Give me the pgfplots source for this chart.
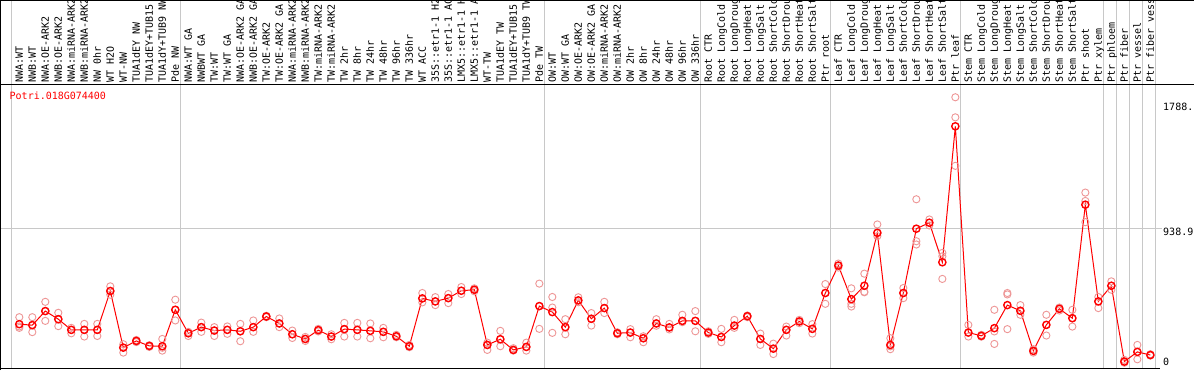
\documentclass[border=0pt]{standalone}
\usepackage{pgfplots}
\pgfplotsset{compat=1.18}
\usepackage{pgfplotstable}
\usepackage{fontspec}
\newfontfamily\mono{DejaVu Sans Mono}
\definecolor{rep}{RGB}{238,150,150}
\definecolor{sep}{RGB}{200,200,200}

\pgfplotstableread{
i m r1 r2 r3
1 266 315 240 250
2 259 315 210 262
3 358 423 289 358
4 301 346 252 301
5 226 202 226 240
6 226 268 179 226
7 226 268 183 226
8 499 532 473 499
9 101 125 66 101
10 148 148 155 140
11 113 118 106 113
12 111 162 80 100
13 367 438 292 367
14 202 212 183 202
15 245 277 212 245
16 221 245 183 221
17 226 250 198 226
18 216 268 146 216
19 245 292 212 245
20 320 325 315 320
21 271 306 245 271
22 195 221 169 195
23 162 176 148 162
24 224 233 215 224
25 179 195 160 179
26 231 275 179 231
27 226 275 179 226
28 219 271 167 219
29 212 240 174 212
30 181 191 174 181
31 111 120 104 111
32 447 485 419 447
33 426 456 400 426
34 449 478 414 449
35 501 527 478 501
36 508 518 497 508
37 120 136 85 120
38 160 219 111 160
39 85 97 80 85
40 106 136 80 106
41 393 551 233 393
42 351 457 205 383
43 245 301 195 245
44 433 455 420 433
45 304 344 256 304
46 379 423 344 379
47 202 209 195 202
48 207 231 174 207
49 167 181 139 167
50 271 301 255 271
51 243 268 229 243
52 289 332 280 289
53 289 358 216 289
54 207 216 198 207
55 176 233 139 176
56 256 296 240 256
57 322 327 315 322
58 162 200 120 162
59 94 129 56 94
60 226 249 186 226
61 285 296 273 285
62 233 266 200 233
63 485 548 409 485
64 678 692 664 678
65 442 518 409 390
66 536 621 494 490
67 908 967 885 908
68 120 167 90 110
69 485 520 449 485
70 937 1144 849 826
71 979 1002 960 979
72 701 767 584 743
73 1657 1861 1720 1379
74 207 261 179 207
75 184 191 178 184
76 238 367 127 215
77 400 485 231 475
78 360 400 332 360
79 78 90 66 78
80 261 332 186 261
81 374 383 362 374
82 308 367 249 308
83 1106 1191 1132 983
84 426 457 379 426
85 536 567 508 536
86 3 15 -5 3
87 71 120 19 71
88 49 55 45 49
}\data

\begin{document}
\begin{tikzpicture}[x=1pt,y=1pt]
\useasboundingbox (0,0) rectangle (1194,370);
\fill[white] (0,0) rectangle (1194,370);
\foreach \s in {0.4,13.4,41.4,53.4,63.4,73.4,84.4,85.4,86.4,87.4,88.4}
  \draw[sep, line width=1pt] ({6.3+13*\s},1.5) -- ({6.3+13*\s},370);
\draw[sep, line width=1pt] (1,{8+938.9/7.03}) -- (1162,{8+938.9/7.03});
\begin{axis}[
  at={(1pt,1.5pt)}, anchor=south west,
  scale only axis, width=1159pt, height=283.5pt,
  xmin=-0.4077, xmax=88.746, ymin=-45.7, ymax=1947.3,
  axis line style={draw=none},
  major tick length=0pt,
  xtick={1,...,88},
  xticklabels={NWA:WT,NWB:WT,NWA:OE-ARK2,NWB:OE-ARK2,NWA:miRNA-ARK2,NWB:miRNA-ARK2,NW 0hr,WT H2O,WT-NW,TUA1dEY NW,TUA1dEY+TUB15,TUA1dY+TUB9 NW,Pde NW,
  NWA:WT GA,NWBWT GA,TW:WT,TW:WT GA,NWA:OE-ARK2 GA,NWB:OE-ARK2 GA,TW:OE-ARK2,TW:OE-ARK2 GA,NWA:miRNA-ARK2,NWB:miRNA-ARK2,TW:miRNA-ARK2,TW:miRNA-ARK2,TW 2hr,TW 8hr,TW 24hr,TW 48hr,TW 96hr,TW 336hr,WT ACC,35S::etr1-1 H2,35S::etr1-1 AC,LMX5::etr1-1 H,LMX5::etr1-1 A,WT-TW,TUA1dEY TW,TUA1dEY+TUB15,TUA1dY+TUB9 TW,Pde TW,
  OW:WT,OW:WT GA,OW:OE-ARK2,OW:OE-ARK2 GA,OW:miRNA-ARK2,OW:miRNA-ARK2,OW 2hr,OW 8hr,OW 24hr,OW 48hr,OW 96hr,OW 336hr,
  Root CTR,Root LongCold,Root LongDroug,Root LongHeat,Root LongSalt,Root ShortCold,Root ShortDrou,Root ShortHeat,Root ShortSalt,Ptr root,
  Leaf CTR,Leaf LongCold,Leaf LongDroug,Leaf LongHeat,Leaf LongSalt,Leaf ShortCold,Leaf ShortDrou,Leaf ShortHeat,Leaf ShortSalt,Ptr leaf,
  Stem CTR,Stem LongCold,Stem LongDroug,Stem LongHeat,Stem LongSalt,Stem ShortCold,Stem ShortDrou,Stem ShortHeat,Stem ShortSalt,Ptr shoot,Ptr xylem,
  Ptr phloem,Ptr fiber,Ptr vessel,Ptr fiber vess},
  xticklabel pos=upper,
  xticklabel shift=2.5pt,
  xticklabel style={rotate=90, anchor=west, inner sep=0pt, text height=7.1pt, text depth=0pt, font=\mono\fontsize{10}{10}\selectfont},
  ytick=\empty,
  clip=false,
]
\addplot[only marks, mark=o, mark size=3.6pt, rep, mark options={line width=0.9pt}] table[x=i,y=r1]{\data};
\addplot[only marks, mark=o, mark size=3.6pt, rep, mark options={line width=0.9pt}] table[x=i,y=r2]{\data};
\addplot[only marks, mark=o, mark size=3.6pt, rep, mark options={line width=0.9pt}] table[x=i,y=r3]{\data};
\addplot[red, line width=1pt, mark=o, mark size=3.6pt, mark options={line width=1.4pt}] table[x=i,y=m]{\data};
\end{axis}
\draw[black, line width=1.2pt] (0,369.4) -- (1194,369.4);
\draw[black, line width=1pt] (0,285) -- (1194,285);
\draw[black, line width=1.2pt] (0.7,0) -- (0.7,370);
\draw[black, line width=1.2pt] (0,1.5) -- (1160,1.5);
\node[anchor=base west, inner sep=0pt, text=red, font=\mono\fontsize{10}{10}\selectfont] at (9.5,270) {Potri.018G074400};
\node[anchor=base west, inner sep=0pt, font=\mono\fontsize{10}{10}\selectfont] at (1163,259) {1788.};
\node[anchor=base west, inner sep=0pt, font=\mono\fontsize{10}{10}\selectfont] at (1163,134.7) {938.9};
\node[anchor=base west, inner sep=0pt, font=\mono\fontsize{10}{10}\selectfont] at (1163,5) {0};
\end{tikzpicture}
\end{document}
